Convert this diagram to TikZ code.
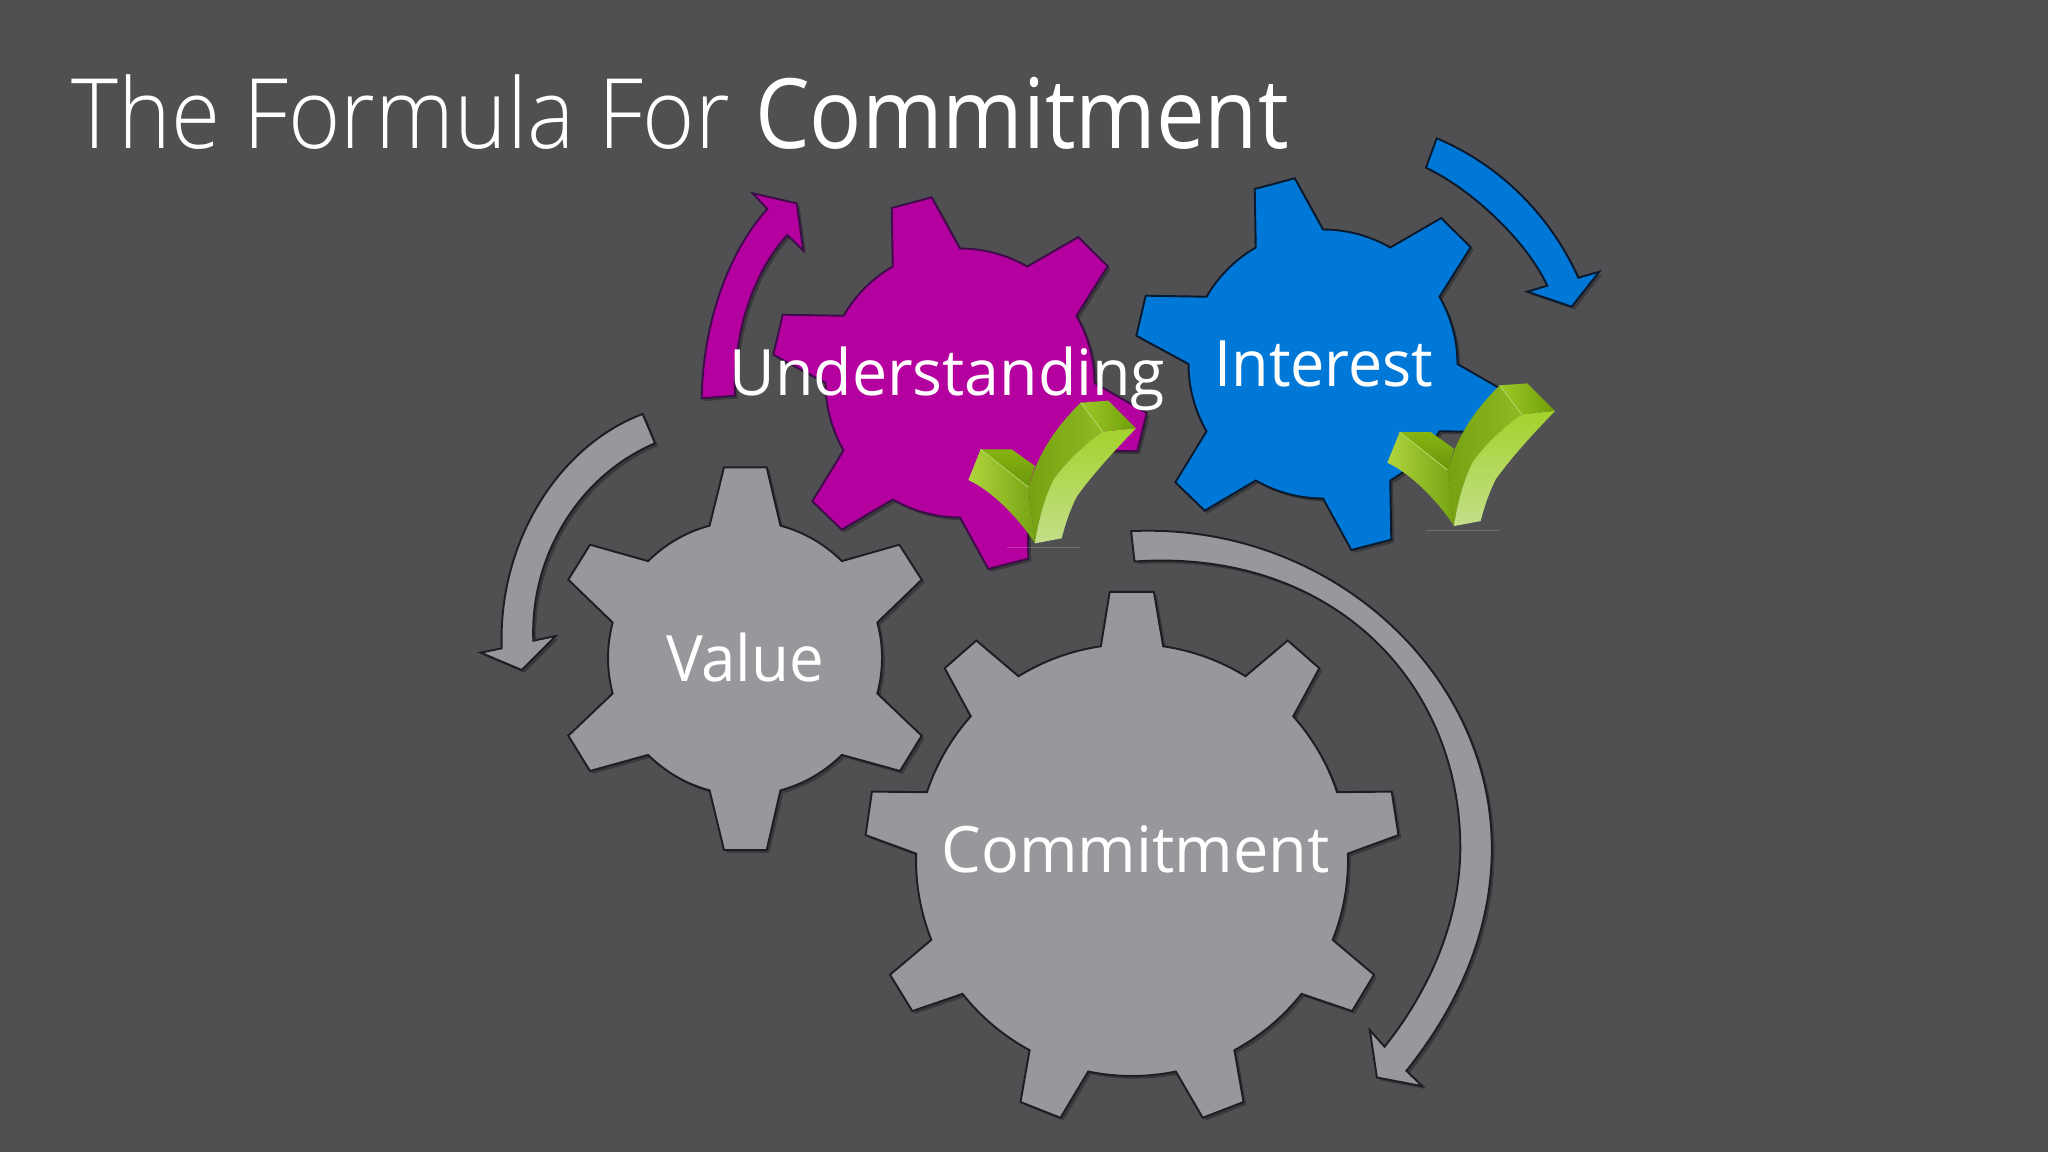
\documentclass[tikz,border=0pt]{standalone}
\usepackage{fontspec}
\usetikzlibrary{shadows}
\setmainfont{Open Sans}
\newfontfamily\lightf{Open Sans Light}
\definecolor{bgc}{HTML}{505052}
\definecolor{grayg}{HTML}{98979B}
\definecolor{purpg}{HTML}{B4009E}
\definecolor{blueg}{HTML}{0078D7}
\definecolor{outl}{HTML}{1E1E22}
\definecolor{outp}{HTML}{3E0C48}
\definecolor{outb}{HTML}{0A1A2E}
\definecolor{ga}{HTML}{86B410}
\definecolor{gb}{HTML}{6B960C}
\definecolor{gd}{HTML}{8FBA22}
\definecolor{ge}{HTML}{B0D53E}
\definecolor{gf}{HTML}{76A212}
\definecolor{gg}{HTML}{9CC828}
\definecolor{gh}{HTML}{6F9E08}
\definecolor{gi}{HTML}{A3D22C}
\definecolor{gj}{HTML}{C4DF8A}
\definecolor{gk}{HTML}{B4D860}
\tikzset{
  baseshape/.style={line width=1.1pt,line join=miter,drop shadow={shadow xshift=1.6pt,shadow yshift=-1.6pt,opacity=.28,fill=black}},
  grayshape/.style={baseshape,fill=grayg,draw=outl},
  purpleshape/.style={baseshape,fill=purpg,draw=outp},
  blueshape/.style={baseshape,fill=blueg,draw=outb},
  lbl/.style={text=white,anchor=base west,inner sep=0pt,outer sep=0pt,font=\fontsize{36.4}{40}\selectfont},
  ttl/.style={text=white,anchor=base west,inner sep=0pt,outer sep=0pt,font=\fontsize{55.3}{60}\selectfont},
  facet/.style={draw=none}
}
\newcommand{\gearsix}[3]{%
  \begin{scope}[shift={(#1,#2)},y=0.02cm]
  \path[#3] (120:134.5) -- (-68.3,175) -- (-28.3,185.7) -- (90:134.5)
    arc[start angle=90,end angle=60,radius=134.5] -- (118.3,146) -- (147.7,116.7) -- (30:134.5)
    arc[start angle=30,end angle=0,radius=134.5] -- (186.7,-30) -- (177.3,-68.3) -- (-30:134.5)
    arc[start angle=-30,end angle=-60,radius=134.5] -- (68.3,-175.7) -- (28.3,-186) -- (-90:134.5)
    arc[start angle=-90,end angle=-120,radius=134.5] -- (-118.3,-146.7) -- (-147.7,-118.3) -- (-150:134.5)
    arc[start angle=-150,end angle=-180,radius=134.5] -- (-186.7,28.3) -- (-177.3,68.3) -- (150:134.5)
    arc[start angle=150,end angle=120,radius=134.5] -- cycle;
  \end{scope}}
\newcommand{\checkmk}[2]{%
  \begin{scope}[shift={(#1,#2)},x=0.00667cm,y=-0.00667cm]
  \draw[line width=.4pt,draw=white,opacity=.18] (140,472) -- (360,472);
  \path[facet,top color=ga,bottom color=gb] (62,178) -- (155,178) -- (225,228) -- (205,292) -- cycle;
  \path[facet,left color=gf,right color=gd] (205,292) -- (225,235) .. controls (260,150) and (310,90) .. (362,38) -- (428,125) .. controls (370,165) and (310,225) .. (280,270) .. controls (255,320) and (235,390) .. (225,460) -- cycle;
  \path[facet,left color=ge,right color=gf] (25,270) -- (62,178) -- (205,292) -- (225,460) .. controls (180,390) and (100,305) .. (25,270) -- cycle;
  \path[facet,left color=gg,right color=gh] (362,38) -- (445,32) -- (528,115) -- (428,125) -- cycle;
  \path[facet,top color=gi,bottom color=gj] (428,125) -- (528,115) .. controls (470,175) and (400,250) .. (350,320) .. controls (330,360) and (315,405) .. (305,445) -- (225,460) .. controls (235,390) and (255,320) .. (280,270) .. controls (310,225) and (370,165) .. (428,125) -- cycle;
  \draw[line width=.5pt,draw=gk] (62,178) -- (205,292);
  \draw[line width=.5pt,draw=gk] (362,38) -- (428,125);
  \end{scope}}
\begin{document}
\begin{tikzpicture}[x=0.02cm,y=-0.02cm]
\useasboundingbox (0,0) rectangle (2048,1152);
\fill[bgc] (0,0) rectangle (2048,1152);
% Value arrow
\path[grayshape] (642.7,414) .. controls (560,445) and (498,540) .. (501.7,648.3) -- (480.7,652.7) -- (521.7,670) -- (555.7,636) -- (533.3,640.7) .. controls (530,555) and (580,475) .. (655,443.3) -- cycle;
% Value gear
\begin{scope}[shift={(745,658)},y=0.02cm]
\path[grayshape] (105:137) -- (-21,190.7) -- (21.7,190.7) -- (75:137)
  arc[start angle=75,end angle=45,radius=137] -- (154.3,113.3) -- (176.7,78.3) -- (15:137)
  arc[start angle=15,end angle=-15,radius=137] -- (176.7,-77.7) -- (155,-113) -- (-45:137)
  arc[start angle=-45,end angle=-75,radius=137] -- (21.7,-192) -- (-21,-192) -- (-105:137)
  arc[start angle=-105,end angle=-135,radius=137] -- (-155,-113) -- (-176.7,-77.7) -- (-165:137)
  arc[start angle=-165,end angle=-195,radius=137] -- (-176.7,78.3) -- (-155,113.3) -- (135:137)
  arc[start angle=135,end angle=105,radius=137] -- cycle;
\end{scope}
% Commitment gear (nine teeth)
\begin{scope}[shift={(1132,860)},y=0.02cm]
\path[grayshape] (98.3:216) -- (-22.3,268.1) -- (21.9,268.1) -- (81.7:216)
 arc[start angle=81.7,end angle=58.3,radius=216] -- (155.7,219.5) -- (187.3,191.8) -- (41.7:216)
 arc[start angle=41.7,end angle=18.3,radius=216] -- (259.7,68.4) -- (266.4,24.9) -- (1.7:216)
 arc[start angle=1.7,end angle=-21.7,radius=216] -- (242,-114.7) -- (220.1,-151.1) -- (-38.3:216)
 arc[start angle=-38.3,end angle=-61.7,radius=216] -- (111.5,-242) -- (70.7,-257.8) -- (-78.3:216)
 arc[start angle=-78.3,end angle=-101.7,radius=216] -- (-71.5,-257.8) -- (-111.5,-242) -- (-118.3:216)
 arc[start angle=-118.3,end angle=-141.7,radius=216] -- (-219.7,-151.1) -- (-242,-114.7) -- (-158.3:216)
 arc[start angle=-158.3,end angle=-181.7,radius=216] -- (-266.4,24.9) -- (-260.1,68.4) -- (161.7:216)
 arc[start angle=161.7,end angle=138.3,radius=216] -- (-187.3,191.8) -- (-155.7,219.5) -- (121.7:216)
 arc[start angle=121.7,end angle=98.3,radius=216] -- cycle;
\end{scope}
% Commitment arrow
\path[grayshape] (1131.1,531.1) .. controls (1330,522) and (1491.8,673) .. (1491.8,848.2) .. controls (1491.8,935) and (1455,1010) .. (1406.4,1070.8) -- (1422.4,1086.2) -- (1376.9,1077.5) -- (1369.8,1030.1) -- (1384.5,1046.7) .. controls (1430,990) and (1460,920) .. (1460.3,848.2) .. controls (1460.3,680) and (1330,548) .. (1134.5,561.5) -- cycle;
% Purple
\path[purpleshape] (701.7,398.3) .. controls (703,320) and (730,250) .. (767.3,209) -- (752.7,193.3) -- (796.7,203.3) -- (803.3,250.7) -- (787.3,235) .. controls (755,270) and (733,330) .. (735,395.7) -- cycle;
\gearsix{960}{383}{purpleshape}
\checkmk{960}{390}
% Blue
\path[blueshape] (1436.7,138.3) .. controls (1500,165) and (1550,215) .. (1578.3,277.7) -- (1599.3,271.7) -- (1571.7,306.7) -- (1527.3,291.7) -- (1547.3,285.7) .. controls (1526,240) and (1471,189) .. (1426,167.7) -- cycle;
\gearsix{1323}{364}{blueshape}
\checkmk{1379}{372.7}
% Text
\node[ttl] (titleA) at (71.7,148.7) {\scalebox{.92}[1]{\lightf The Formula For}};
\node[ttl] (titleB) at (755,148.7) {\scalebox{.892}[1]{Commitment}};
\node[lbl] (understanding) at (729.5,395) {\scalebox{.98}[1]{Understanding}};
\node[lbl] (interest) at (1214.5,386) {\scalebox{.955}[1]{Interest}};
\node[lbl] (value) at (666,681) {\scalebox{.967}[1]{Value}};
\node[lbl] (commitment) at (941.5,872.5) {\scalebox{.985}[1]{Commitment}};
\end{tikzpicture}
\end{document}
